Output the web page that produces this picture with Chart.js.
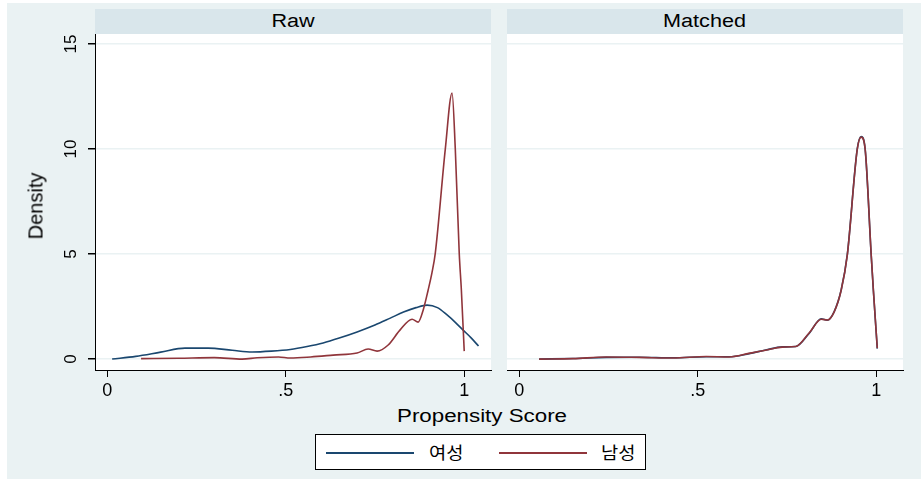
<!DOCTYPE html>
<html>
<head>
<meta charset="utf-8">
<script src="https://cdn.jsdelivr.net/npm/chart.js@4.4.1/dist/chart.umd.min.js"></script>
<style>
	body { margin: 0; background: #fff; font-family: "Liberation Sans", Arial, sans-serif; }
	.abs { position: absolute; }
	#bg { left: 7px; top: 3px; width: 914px; height: 476px; background: #eaf2f3; }
	.strip { top: 9px; width: 396px; height: 25px; background: #d9e6eb; text-align: center; line-height: 25px; font-size: 18px; color: #000; }
	.strip span { display: inline-block; transform: scaleX(1.2); }
	#ytitle { left: 36px; top: 206px; font-size: 20px; transform: translate(-50%, -50%) rotate(-90deg); white-space: nowrap; }
	#xtitle { left: 482px; top: 416px; font-size: 18px; transform: translate(-50%, -50%) scaleX(1.24); white-space: nowrap; }
	#legend { left: 315px; top: 434px; width: 329px; height: 34px; background: #fff; border: 1px solid #000; }
	.lline { height: 2px; width: 88px; top: 17px; }
	.ltext { top: 6px; font-family: "Noto Sans CJK KR", sans-serif; font-size: 17px; line-height: 22px; transform: scaleX(1.1); transform-origin: left center; }
</style>
</head>
<body>
<div id="bg" class="abs"></div>
<div id="strip0" class="abs strip" style="left:95px"></div>
<div id="strip1" class="abs strip" style="left:507px"></div>
<canvas id="rawChart" class="abs" width="496" height="400" style="left:0;top:0"></canvas>
<canvas id="matchedChart" class="abs" width="410" height="400" style="left:500px;top:0"></canvas>
<div id="ytitle" class="abs">Density</div>
<div id="xtitle" class="abs">Propensity Score</div>
<div id="legend" class="abs">
	<div class="abs lline" id="line0" style="left:10px"></div>
	<div class="abs ltext" id="text0" style="left:113px"></div>
	<div class="abs lline" id="line1" style="left:183px"></div>
	<div class="abs ltext" id="text1" style="left:285px"></div>
</div>
<script>
const panelTitles = ['Raw', 'Matched'];
const seriesNames = ['여성', '남성'];
const seriesColors = ['#1a476f', '#90353b'];
const xTicks = [0, 0.5, 1];
const yTicks = [0, 5, 10, 15];

// Raw panel
const rawFemaleX = [0.014, 0.08, 0.15, 0.218, 0.283, 0.35, 0.406, 0.46, 0.513, 0.56, 0.605, 0.65, 0.70, 0.75, 0.793, 0.83, 0.865, 0.896, 0.925, 0.952, 0.975, 0.997, 1.02, 1.04];
const rawFemaleY = [0.0, 0.13, 0.33, 0.52, 0.52, 0.42, 0.34, 0.38, 0.46, 0.6, 0.77, 1.0, 1.29, 1.62, 1.95, 2.24, 2.45, 2.57, 2.45, 2.1, 1.75, 1.38, 1.0, 0.62];
const rawMaleX = [0.095, 0.2, 0.3, 0.378, 0.42, 0.48, 0.513, 0.57, 0.633, 0.70, 0.731, 0.756, 0.787, 0.82, 0.854, 0.871, 0.885, 0.899, 0.91, 0.919, 0.947, 0.966, 0.975, 0.986, 0.992, 1.0];
const rawMaleY = [0.02, 0.04, 0.07, 0.0, 0.06, 0.1, 0.05, 0.1, 0.19, 0.29, 0.48, 0.38, 0.67, 1.38, 1.9, 1.76, 2.33, 3.29, 4.14, 5.05, 10.0, 12.67, 10.0, 5.05, 3.29, 0.38];

// Matched panel
const matchedX = [0.056, 0.151, 0.244, 0.336, 0.431, 0.524, 0.588, 0.644, 0.69, 0.737, 0.775, 0.812, 0.846, 0.863, 0.882, 0.902, 0.919, 0.947, 0.958, 0.969, 0.986, 0.992, 1.003];
const matchedFemaleY = [0.0, 0.03, 0.08, 0.09, 0.06, 0.11, 0.11, 0.26, 0.43, 0.58, 0.6, 1.22, 1.92, 1.85, 2.25, 3.3, 4.97, 10.02, 10.6, 10.0, 4.93, 3.28, 0.5];
const matchedMaleY = [0.0, 0.02, 0.1, 0.08, 0.05, 0.12, 0.1, 0.27, 0.42, 0.57, 0.6, 1.24, 1.9, 1.86, 2.24, 3.29, 4.95, 10.0, 10.57, 10.0, 4.95, 3.29, 0.52];

function toPoints(xs, ys) {
	return xs.map((x, i) => ({ x: x, y: ys[i] }));
}

function makeDataset(i, xs, ys) {
	return {
		label: seriesNames[i],
		data: toPoints(xs, ys),
		borderColor: seriesColors[i],
		borderWidth: 1.6,
		pointRadius: 0,
		fill: false,
		cubicInterpolationMode: 'monotone',
		order: 1 - i,
	};
}

const plotBg = {
	id: 'plotBg',
	beforeDraw(chart) {
		const a = chart.chartArea;
		const ctx = chart.ctx;
		ctx.save();
		ctx.fillStyle = '#fff';
		ctx.fillRect(a.left, a.top, a.right - a.left, a.bottom - a.top);
		ctx.restore();
	}
};

// rotated y tick labels, like Stata
const yLabels = {
	id: 'yLabels',
	afterDraw(chart) {
		if (!chart.options.showYLabels) return;
		const ctx = chart.ctx;
		const y = chart.scales.y;
		ctx.save();
		ctx.fillStyle = '#000';
		ctx.font = '17px "Liberation Sans", Arial, sans-serif';
		ctx.textAlign = 'center';
		ctx.textBaseline = 'middle';
		yTicks.forEach(v => {
			ctx.save();
			ctx.translate(71, y.getPixelForValue(v));
			ctx.rotate(-Math.PI / 2);
			ctx.fillText(String(v), 0, 0);
			ctx.restore();
		});
		ctx.restore();
	}
};

function makeChart(id, datasets, leftPanel) {
	const ctx = document.getElementById(id).getContext('2d');
	return new Chart(ctx, {
		type: 'line',
		data: { datasets: datasets },
		plugins: [plotBg, yLabels],
		options: {
			responsive: false,
			animation: false,
			devicePixelRatio: 1,
			showYLabels: leftPanel,
			layout: { padding: { top: 34, right: leftPanel ? 5 : 7, left: 0, bottom: 0 } },
			plugins: { legend: { display: false }, tooltip: { enabled: false } },
			scales: {
				x: {
					type: 'linear',
					min: -0.034,
					max: 1.075,
					afterBuildTicks: s => { s.ticks = xTicks.map(v => ({ value: v })); },
					afterFit: s => { s.height = 30; },
					ticks: {
						color: '#000',
						padding: 3,
						font: { size: 18, family: '"Liberation Sans", Arial, sans-serif' },
						callback: v => (v === 0.5 ? '.5' : String(v)),
					},
					grid: { drawOnChartArea: false, tickLength: 7, color: '#000', tickColor: '#000' },
					border: { color: '#000', width: 1 },
				},
				y: {
					min: -0.52,
					max: 15.48,
					afterBuildTicks: s => { s.ticks = yTicks.map(v => ({ value: v })); },
					afterFit: s => { s.width = leftPanel ? 95 : 7; },
					ticks: { display: false },
					grid: {
						color: '#eaf2f3',
						tickColor: '#000',
						tickLength: 7,
						drawTicks: leftPanel,
						lineWidth: 1.5,
					},
					border: { display: leftPanel, color: '#000', width: 1 },
				}
			}
		}
	});
}

panelTitles.forEach((t, i) => {
	document.getElementById('strip' + i).innerHTML = '<span>' + t + '</span>';
});
seriesNames.forEach((n, i) => {
	document.getElementById('line' + i).style.background = seriesColors[i];
	document.getElementById('text' + i).textContent = n;
});

makeChart('rawChart', [
	makeDataset(0, rawFemaleX, rawFemaleY),
	makeDataset(1, rawMaleX, rawMaleY),
], true);

makeChart('matchedChart', [
	makeDataset(0, matchedX, matchedFemaleY),
	makeDataset(1, matchedX, matchedMaleY),
], false);
</script>
</body>
</html>
